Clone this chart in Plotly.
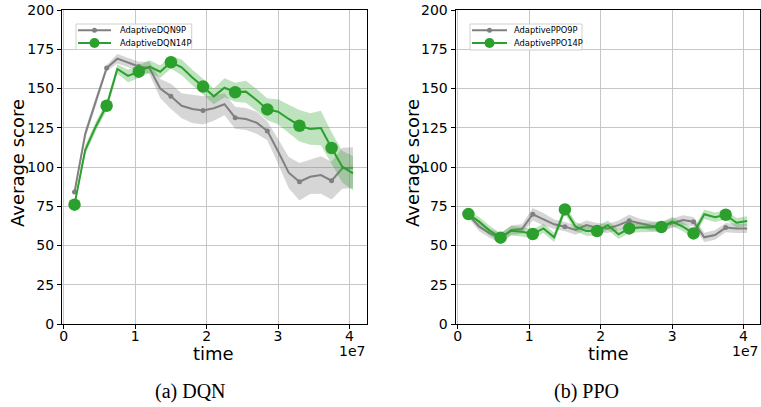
import plotly.graph_objects as go

# Training timesteps (every 1.5M steps)
steps = [1.5e6 * k for k in range(1, 28)]

# DQN results: mean and spread of average score
dqn9_mean = [84, 121, 142, 163, 169, 166.5, 164, 163, 150, 145, 139, 137, 136,
             137.4, 140, 131.4, 130.6, 128.2, 123, 110, 96.4, 90.6, 93.8, 94.9,
             91.3, 99.2, 99.6]
dqn9_std = [2, 3, 3, 2, 3, 3, 3, 4, 6, 8, 8, 9, 9, 8, 7, 7, 7, 7, 6, 8, 10, 12,
            11, 12, 12, 13, 13]
dqn14_mean = [76, 110.8, 126, 139, 162.4, 158, 160.7, 164, 160.7, 166.7, 163.5,
              157, 151.2, 145, 150.5, 147.6, 148, 142.7, 136.7, 135.2, 130.6,
              126.3, 124.2, 124.8, 112.1, 100.2, 96]
dqn14_std = [2, 3, 3, 3, 3, 4, 4, 4, 4, 4, 5, 5, 5, 5, 6, 6, 7, 7, 7, 8, 9, 10,
             10, 11, 10, 10, 11]

# PPO results: mean and spread of average score
ppo9_mean = [69.5, 62, 57.7, 54.6, 59.9, 60.5, 69.9, 66.7, 63.5, 62, 59.9, 63,
             61.4, 60.9, 63, 65.8, 64.1, 62.6, 62, 64.1, 66.2, 65.2, 55.2, 56.7,
             61.4, 60.9, 60.9]
ppo9_std = [2, 3, 3, 3, 3, 3, 4, 4, 3, 3, 3, 3, 3, 3, 3, 4, 3, 3, 3, 3, 3, 3,
            3, 3, 3, 3, 3]
ppo14_mean = [70, 65.2, 59.4, 55, 59.4, 58.8, 57.3, 60.9, 55.2, 73, 62, 59.2,
              59.2, 63, 57.1, 60.9, 61.4, 61.7, 61.8, 65.2, 62, 57.7, 69.9, 68,
              69.6, 64.5, 65.6]
ppo14_std = [2, 3, 3, 3, 3, 3, 3, 3, 3, 3, 3, 3, 3, 3, 3, 3, 3, 3, 3, 3, 3, 3,
             3, 3, 3, 3, 3]

dqn_names = ["AdaptiveDQN9P", "AdaptiveDQN14P"]
ppo_names = ["AdaptivePPO9P", "AdaptivePPO14P"]

W, H = 761, 407
FONT = "DejaVu Sans"
GRAY = "#808080"
GREEN = "#2ca02c"
styles = [
    dict(color=GRAY, band="rgba(128,128,128,0.32)", size=5, legend_size=5),
    dict(color=GREEN, band="rgba(44,160,44,0.30)", size=12.5, legend_size=10),
]

panels = [
    dict(xa="x", ya="y", names=dqn_names,
         series=[(dqn9_mean, dqn9_std), (dqn14_mean, dqn14_std)],
         legend_box=(76, 24, 191.7, 49.5), legend_line=(78, 111), text_x=117.5),
    dict(xa="x2", ya="y2", names=ppo_names,
         series=[(ppo9_mean, ppo9_std), (ppo14_mean, ppo14_std)],
         legend_box=(470, 24, 582, 50), legend_line=(472, 507), text_x=512),
]

fig = go.Figure()
for p in panels:
    for (mean, std), st in zip(p["series"], styles):
        upper = [m + s for m, s in zip(mean, std)]
        lower = [m - s for m, s in zip(mean, std)]
        fig.add_trace(go.Scatter(
            x=steps + steps[::-1], y=upper + lower[::-1], fill="toself",
            fillcolor=st["band"], line=dict(width=0), mode="lines",
            hoverinfo="skip", showlegend=False, xaxis=p["xa"], yaxis=p["ya"]))
        fig.add_trace(go.Scatter(
            x=steps, y=mean, mode="lines", line=dict(color=st["color"], width=2),
            showlegend=False, xaxis=p["xa"], yaxis=p["ya"]))
        # marker on every third sample
        fig.add_trace(go.Scatter(
            x=steps[::3], y=mean[::3], mode="markers",
            marker=dict(color=st["color"], size=st["size"], line=dict(width=0)),
            showlegend=False, xaxis=p["xa"], yaxis=p["ya"]))

y_dom = [83 / H, 397 / H]
x_ticks = [0, 1e7, 2e7, 3e7, 4e7]
x_text = ["0", "1", "2", "3", "4"]
y_ticks = [0, 25, 50, 75, 100, 125, 150, 175, 200]

axis_common = dict(showline=True, mirror=True, linecolor="black", linewidth=1.3,
                   ticks="outside", ticklen=4, tickwidth=1.2, tickcolor="black",
                   showgrid=True, gridcolor="#c6c6c6", gridwidth=1,
                   zeroline=False, automargin=False,
                   tickfont=dict(family=FONT, size=14, color="black"))
x_common = dict(axis_common, ticklabelstandoff=-5)

fig.update_layout(
    width=W, height=H, margin=dict(l=0, r=0, t=0, b=0, autoexpand=False),
    paper_bgcolor="white", plot_bgcolor="white", showlegend=False,
    xaxis=dict(domain=[62 / W, 367.3 / W], range=[-0.25e6, 42.5e6],
               tickvals=x_ticks, ticktext=x_text, anchor="y", **x_common),
    yaxis=dict(domain=y_dom, range=[0, 200], tickvals=y_ticks, anchor="x",
               **axis_common),
    xaxis2=dict(domain=[455.7 / W, 760 / W], range=[-0.28e6, 42.3e6],
                tickvals=x_ticks, ticktext=x_text, anchor="y2", **x_common),
    yaxis2=dict(domain=y_dom, range=[0, 200], tickvals=y_ticks, anchor="x2",
                **axis_common),
)


def px_x(v):
    return v / W


def px_y(v):
    return 1 - v / H


shapes = []
ann = []
# legends drawn as boxed keys in the upper-left corner of each panel
for p in panels:
    bx0, by0, bx1, by1 = p["legend_box"]
    shapes.append(dict(type="rect", xref="paper", yref="paper",
                       x0=px_x(bx0), x1=px_x(bx1), y0=px_y(by1), y1=px_y(by0),
                       fillcolor="rgba(255,255,255,0.85)",
                       line=dict(color="#d0d0d0", width=1)))
    lx0, lx1 = p["legend_line"]
    for i, (name, st) in enumerate(zip(p["names"], styles)):
        ry = by0 + 6.2 + i * 12.8
        shapes.append(dict(type="line", xref="paper", yref="paper",
                           x0=px_x(lx0), x1=px_x(lx1), y0=px_y(ry), y1=px_y(ry),
                           line=dict(color=st["color"], width=2)))
        r = st["legend_size"] / 2
        shapes.append(dict(type="circle", xref="paper", yref="paper",
                           xsizemode="pixel", ysizemode="pixel",
                           xanchor=px_x((lx0 + lx1) / 2), yanchor=px_y(ry),
                           x0=-r, x1=r, y0=-r, y1=r,
                           fillcolor=st["color"], line=dict(width=0)))
        ann.append(dict(x=px_x(p["text_x"]), y=px_y(ry), text=name,
                        xanchor="left",
                        font=dict(family=FONT, size=8.3, color="black")))

for cx, tx, ex, cap_x, cap in [(18, 213, 367, 190, "(a) DQN"),
                               (413, 608, 760, 586, "(b) PPO")]:
    ann.append(dict(x=px_x(cx), y=px_y(163), text="Average score", textangle=-90,
                    font=dict(family=FONT, size=18, color="black")))
    ann.append(dict(x=px_x(tx), y=px_y(353), text="time",
                    font=dict(family=FONT, size=18, color="black")))
    ann.append(dict(x=px_x(ex), y=px_y(350.5), text="1e7", xanchor="right",
                    font=dict(family=FONT, size=14, color="black")))
    ann.append(dict(x=px_x(cap_x), y=px_y(391), text=cap,
                    font=dict(family="Liberation Serif", size=20, color="black")))
for a in ann:
    a.update(xref="paper", yref="paper", showarrow=False)
    a.setdefault("xanchor", "center")
    a["yanchor"] = "middle"
fig.update_layout(annotations=ann, shapes=shapes)

fig.write_html("out.html")
